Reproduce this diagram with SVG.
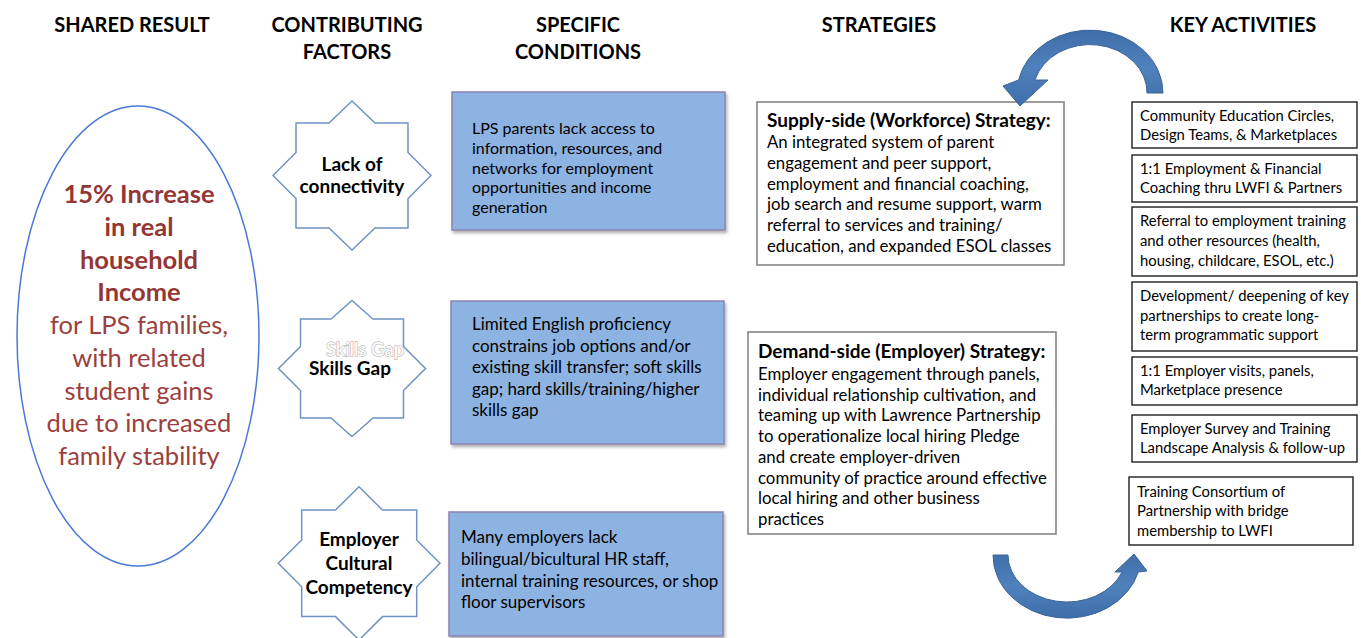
<svg xmlns="http://www.w3.org/2000/svg" width="1361" height="638" viewBox="0 0 1361 638">
  <style>
    text { font-family: Lato, "Open Sans", sans-serif; fill: #000; }
    .hdr { font-size: 20px; font-weight: bold; text-anchor: middle; }
    .res { font-size: 25.5px; text-anchor: middle; fill: #9b403d; }
    .res-b { font-weight: bold; fill: #943634; }
    .star { fill: #fff; stroke: #6f93c4; stroke-width: 1.5; }
    .star-t { font-size: 19px; font-weight: bold; text-anchor: middle; }
    .ghost { font-size: 18.5px; text-anchor: middle; fill: #fff; stroke: #bdbdbd; stroke-width: 1.4; paint-order: stroke; }
    .cond { fill: #8db3e2; stroke: #8c82b2; stroke-width: 1.5; filter: url(#shadow); }
    .cond-t { font-size: 16px; }
    .cond-t2 { font-size: 17px; }
    .strat { fill: #fff; stroke: #7f7f7f; stroke-width: 1.5; }
    .strat-h { font-size: 19px; font-weight: bold; }
    .strat-t { font-size: 16.8px; }
    .act { fill: #fff; stroke: #1e1e1e; stroke-width: 1.4; }
    .act-t { font-size: 14.8px; }
    .loop { fill: url(#loopFill); stroke: #3a6496; stroke-width: 1; }
  </style>
  <defs>
    <filter id="shadow" x="-5%" y="-5%" width="115%" height="120%">
      <feDropShadow dx="1.5" dy="2.5" stdDeviation="1.5" flood-color="#000" flood-opacity="0.3"/>
    </filter>
    <linearGradient id="loopFill" x1="0" y1="0" x2="0" y2="1">
      <stop offset="0" stop-color="#3f6ea8"/>
      <stop offset="0.5" stop-color="#4f81bd"/>
      <stop offset="1" stop-color="#3f6ea8"/>
    </linearGradient>
  </defs>

  <!-- column headings -->
  <g id="headings">
    <text class="hdr" x="132" y="32">SHARED RESULT</text>
    <text class="hdr" x="347" y="32">CONTRIBUTING</text>
    <text class="hdr" x="347" y="59">FACTORS</text>
    <text class="hdr" x="578" y="32">SPECIFIC</text>
    <text class="hdr" x="578" y="59">CONDITIONS</text>
    <text class="hdr" x="879" y="32">STRATEGIES</text>
    <text class="hdr" x="1243" y="32">KEY ACTIVITIES</text>
  </g>

  <!-- shared result -->
  <g id="shared-result">
    <ellipse cx="138" cy="336" rx="121" ry="230" fill="#fff" stroke="#4a78d8" stroke-width="1.5"/>
    <text class="res res-b" x="139" y="203">15% Increase</text>
    <text class="res res-b" x="139" y="235.8">in real</text>
    <text class="res res-b" x="139" y="268.5">household</text>
    <text class="res res-b" x="139" y="301.3">Income</text>
    <text class="res" x="139" y="334">for LPS families,</text>
    <text class="res" x="139" y="366.8">with related</text>
    <text class="res" x="139" y="399.5">student gains</text>
    <text class="res" x="139" y="432.3">due to increased</text>
    <text class="res" x="139" y="465">family stability</text>
  </g>

  <!-- contributing factors -->
  <g id="factor-connectivity">
    <polygon class="star" points="352,101 375,123 408,123 408,152.5 431,175.5 408,198.5 408,228 375,228 352,250 329,228 296,228 296,198.5 273,175.5 296,152.5 296,123 329,123"/>
    <text class="star-t" x="352" y="171">Lack of</text>
    <text class="star-t" x="352" y="193">connectivity</text>
  </g>
  <g id="factor-skills">
    <polygon class="star" points="352,300.5 373,319 403.5,319 403.5,346.5 425.5,368.5 403.5,390.5 403.5,418 373,418 352,436.5 331,418 300.5,418 300.5,390.5 278.5,368.5 300.5,346.5 300.5,319 331,319"/>
    <text class="ghost" x="365" y="356">Skills Gap</text>
    <text class="star-t" x="350" y="375">Skills Gap</text>
  </g>
  <g id="factor-culture">
    <polygon class="star" points="359,486.7 382.5,510 416.7,510 416.7,540 440,563.3 416.7,586.8 416.7,616.6 382.5,616.6 359,640 335.5,616.6 301.7,616.6 301.7,586.8 278.3,563.3 301.7,540 301.7,510 335.5,510"/>
    <text class="star-t" x="359" y="546">Employer</text>
    <text class="star-t" x="359" y="570">Cultural</text>
    <text class="star-t" x="359" y="594">Competency</text>
  </g>

  <!-- specific conditions -->
  <g id="condition-access">
    <rect class="cond" x="452" y="92" width="273" height="138"/>
    <text class="cond-t" x="472" y="134">LPS parents lack access to</text>
    <text class="cond-t" x="472" y="153.8">information, resources, and</text>
    <text class="cond-t" x="472" y="173.6">networks for employment</text>
    <text class="cond-t" x="472" y="193.4">opportunities  and income</text>
    <text class="cond-t" x="472" y="213.2">generation</text>
  </g>
  <g id="condition-language">
    <rect class="cond" x="451" y="301" width="273" height="143"/>
    <text class="cond-t2" x="472" y="330">Limited English proficiency</text>
    <text class="cond-t2" x="472" y="351.5">constrains job options and/or</text>
    <text class="cond-t2" x="472" y="373">existing skill transfer; soft skills</text>
    <text class="cond-t2" x="472" y="394.5">gap; hard skills/training/higher</text>
    <text class="cond-t2" x="472" y="416">skills gap</text>
  </g>
  <g id="condition-employers">
    <rect class="cond" x="449" y="512" width="274" height="124"/>
    <text class="cond-t2" x="461" y="543">Many employers lack</text>
    <text class="cond-t2" x="461" y="564.8">bilingual/bicultural HR staff,</text>
    <text class="cond-t2" x="461" y="586.5">internal training resources, or shop</text>
    <text class="cond-t2" x="461" y="608.3">floor supervisors</text>
  </g>

  <!-- strategies -->
  <g id="strategy-supply">
    <rect class="strat" x="757" y="102" width="307" height="163"/>
    <text class="strat-h" x="767" y="126.7">Supply-side (Workforce) Strategy:</text>
    <text class="strat-t" x="767" y="148.3">An integrated system of parent</text>
    <text class="strat-t" x="767" y="169">engagement and peer support,</text>
    <text class="strat-t" x="767" y="189.7">employment and financial  coaching,</text>
    <text class="strat-t" x="767" y="210.4">job search and resume support, warm</text>
    <text class="strat-t" x="767" y="231.1">referral to services and training/</text>
    <text class="strat-t" x="767" y="251.8">education, and expanded ESOL classes</text>
  </g>
  <g id="strategy-demand">
    <rect class="strat" x="748" y="332" width="308" height="202"/>
    <text class="strat-h" x="758" y="358.3">Demand-side (Employer) Strategy:</text>
    <text class="strat-t" x="758" y="380">Employer engagement through panels,</text>
    <text class="strat-t" x="758" y="400.7">individual relationship cultivation, and</text>
    <text class="strat-t" x="758" y="421.4">teaming up with Lawrence Partnership</text>
    <text class="strat-t" x="758" y="442.1">to operationalize local hiring Pledge</text>
    <text class="strat-t" x="758" y="462.8">and create employer-driven</text>
    <text class="strat-t" x="758" y="483.5">community of practice around effective</text>
    <text class="strat-t" x="758" y="504.2">local hiring and other business</text>
    <text class="strat-t" x="758" y="524.9">practices</text>
  </g>

  <!-- key activities -->
  <g id="activity-circles">
    <rect class="act" x="1132" y="102" width="225" height="46"/>
    <text class="act-t" x="1140" y="121">Community Education Circles,</text>
    <text class="act-t" x="1140" y="140">Design Teams, &amp; Marketplaces</text>
  </g>
  <g id="activity-coaching">
    <rect class="act" x="1132" y="155" width="225" height="47"/>
    <text class="act-t" x="1140" y="174">1:1 Employment &amp; Financial</text>
    <text class="act-t" x="1140" y="193">Coaching thru LWFI &amp; Partners</text>
  </g>
  <g id="activity-referral">
    <rect class="act" x="1132" y="207" width="225" height="69"/>
    <text class="act-t" x="1140" y="226">Referral to employment training</text>
    <text class="act-t" x="1140" y="246">and other resources (health,</text>
    <text class="act-t" x="1140" y="266">housing, childcare, ESOL, etc.)</text>
  </g>
  <g id="activity-partnerships">
    <rect class="act" x="1132" y="282" width="225" height="69"/>
    <text class="act-t" x="1140" y="301">Development/ deepening of key</text>
    <text class="act-t" x="1140" y="321">partnerships to create long-</text>
    <text class="act-t" x="1140" y="340">term programmatic support</text>
  </g>
  <g id="activity-visits">
    <rect class="act" x="1132" y="357" width="225" height="48"/>
    <text class="act-t" x="1140" y="376">1:1 Employer visits, panels,</text>
    <text class="act-t" x="1140" y="395">Marketplace presence</text>
  </g>
  <g id="activity-survey">
    <rect class="act" x="1132" y="415" width="225" height="47"/>
    <text class="act-t" x="1140" y="434">Employer Survey and Training</text>
    <text class="act-t" x="1140" y="453">Landscape Analysis &amp; follow-up</text>
  </g>
  <g id="activity-consortium">
    <rect class="act" x="1129" y="477" width="224" height="68"/>
    <text class="act-t" x="1137" y="497">Training Consortium of</text>
    <text class="act-t" x="1137" y="516">Partnership with bridge</text>
    <text class="act-t" x="1137" y="536">membership to LWFI</text>
  </g>

  <!-- feedback loop between activities and strategies -->
  <g id="connectors">
    <path class="loop" d="M1147,93 L1163,93 A73,63 0 0 0 1018.6,80 L1003,86 L1020,106 L1048,80 L1035,80 A57,48 0 0 1 1147,93 Z"/>
    <path class="loop" d="M1008,555 L993,555 A74,63 0 0 0 1138.3,572 L1147,571 L1134,554 L1115,572 L1122,572 A59,47 0 0 1 1008,555 Z"/>
  </g>
</svg>
